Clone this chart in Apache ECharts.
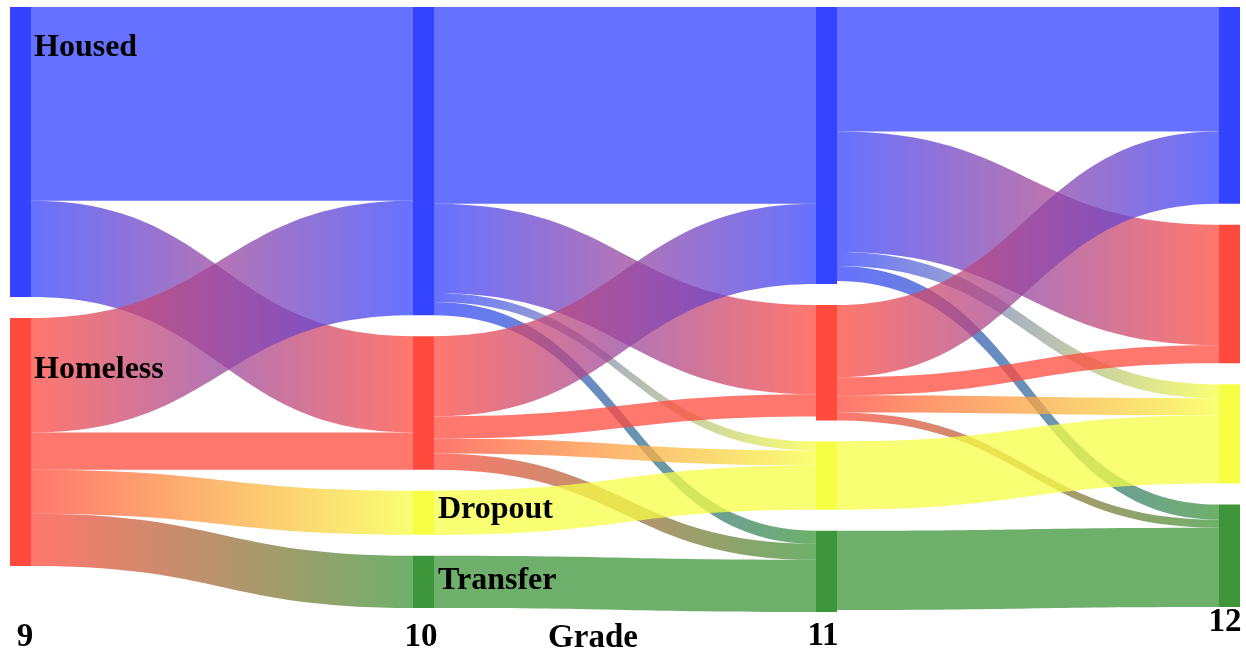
<!DOCTYPE html>
<html>
<head>
<meta charset="utf-8">
<style>
  html, body { margin: 0; padding: 0; background: #fff; }
  #chart { width: 1246px; height: 654px; }
</style>
<script src="https://cdn.jsdelivr.net/npm/echarts@6/dist/echarts.min.js"></script>
</head>
<body>
<div id="chart"></div>
<script>
// grades (columns) and student states
const grades = ['9', '10', '11', '12'];
const states = ['Housed', 'Homeless', 'Dropout', 'Transfer'];
const statesGrade9 = ['Housed', 'Homeless'];

// flows between grades: [from state, to state, students]
const flows9to10 = [
  ['Housed', 'Housed', 193],
  ['Housed', 'Homeless', 96],
  ['Homeless', 'Housed', 114],
  ['Homeless', 'Homeless', 37],
  ['Homeless', 'Dropout', 44],
  ['Homeless', 'Transfer', 52]
];
const flows10to11 = [
  ['Housed', 'Housed', 196],
  ['Housed', 'Homeless', 89],
  ['Housed', 'Dropout', 9],
  ['Housed', 'Transfer', 13],
  ['Homeless', 'Housed', 80],
  ['Homeless', 'Homeless', 22],
  ['Homeless', 'Dropout', 15],
  ['Homeless', 'Transfer', 16],
  ['Dropout', 'Dropout', 44],
  ['Transfer', 'Transfer', 52]
];
const flows11to12 = [
  ['Housed', 'Housed', 124],
  ['Housed', 'Homeless', 120],
  ['Housed', 'Dropout', 14],
  ['Housed', 'Transfer', 15],
  ['Homeless', 'Housed', 72],
  ['Homeless', 'Homeless', 18],
  ['Homeless', 'Dropout', 17],
  ['Homeless', 'Transfer', 8],
  ['Dropout', 'Dropout', 68],
  ['Transfer', 'Transfer', 79]
];

const stateColors = {
  Housed: '#3343ff',
  Homeless: '#ff4a3d',
  Dropout: '#f7ff45',
  Transfer: '#3e963a'
};

// which node carries a text label, and where it sits inside the node box
const labelSpots = {
  'Housed 9': [24, 41],
  'Homeless 9': [24, 52],
  'Dropout 10': [25, 19],
  'Transfer 10': [25, 25]
};

const nodes = [];
grades.forEach((g, depth) => {
  const list = depth === 0 ? statesGrade9 : states;
  list.forEach(s => {
    const name = s + ' ' + g;
    const spot = labelSpots[name];
    nodes.push({
      name: name,
      depth: depth,
      itemStyle: { color: stateColors[s] },
      label: spot ? {
        show: true,
        position: spot,
        align: 'left',
        verticalAlign: 'middle',
        formatter: s
      } : { show: false }
    });
  });
});

const links = [];
[flows9to10, flows10to11, flows11to12].forEach((flows, i) => {
  flows.forEach(f => {
    links.push({ source: f[0] + ' ' + grades[i], target: f[1] + ' ' + grades[i + 1], value: f[2] });
  });
});

const bottomLabels = [
  { text: '9', x: 25, y: 637 },
  { text: '10', x: 421, y: 637 },
  { text: 'Grade', x: 593, y: 638 },
  { text: '11', x: 823, y: 636 },
  { text: '12', x: 1225, y: 622 }
];

const chart = echarts.init(document.getElementById('chart'));
chart.setOption({
  animation: false,
  backgroundColor: '#fff',
  series: [{
    type: 'sankey',
    left: 10,
    right: 6,
    top: 7,
    bottom: 42,
    nodeWidth: 21,
    nodeGap: 21,
    layoutIterations: 0,
    draggable: false,
    emphasis: { disabled: true },
    data: nodes,
    links: links,
    itemStyle: { borderWidth: 0 },
    label: {
      color: '#000',
      fontFamily: 'Liberation Serif',
      fontWeight: 'bold',
      fontSize: 32
    },
    lineStyle: {
      color: 'gradient',
      opacity: 0.75,
      curveness: 0.5
    }
  }],
  graphic: bottomLabels.map(l => ({
    type: 'text',
    x: l.x,
    y: l.y,
    style: {
      text: l.text,
      fill: '#000',
      font: 'bold 33px "Liberation Serif"',
      textAlign: 'center',
      textVerticalAlign: 'middle'
    }
  }))
});
</script>
</body>
</html>
